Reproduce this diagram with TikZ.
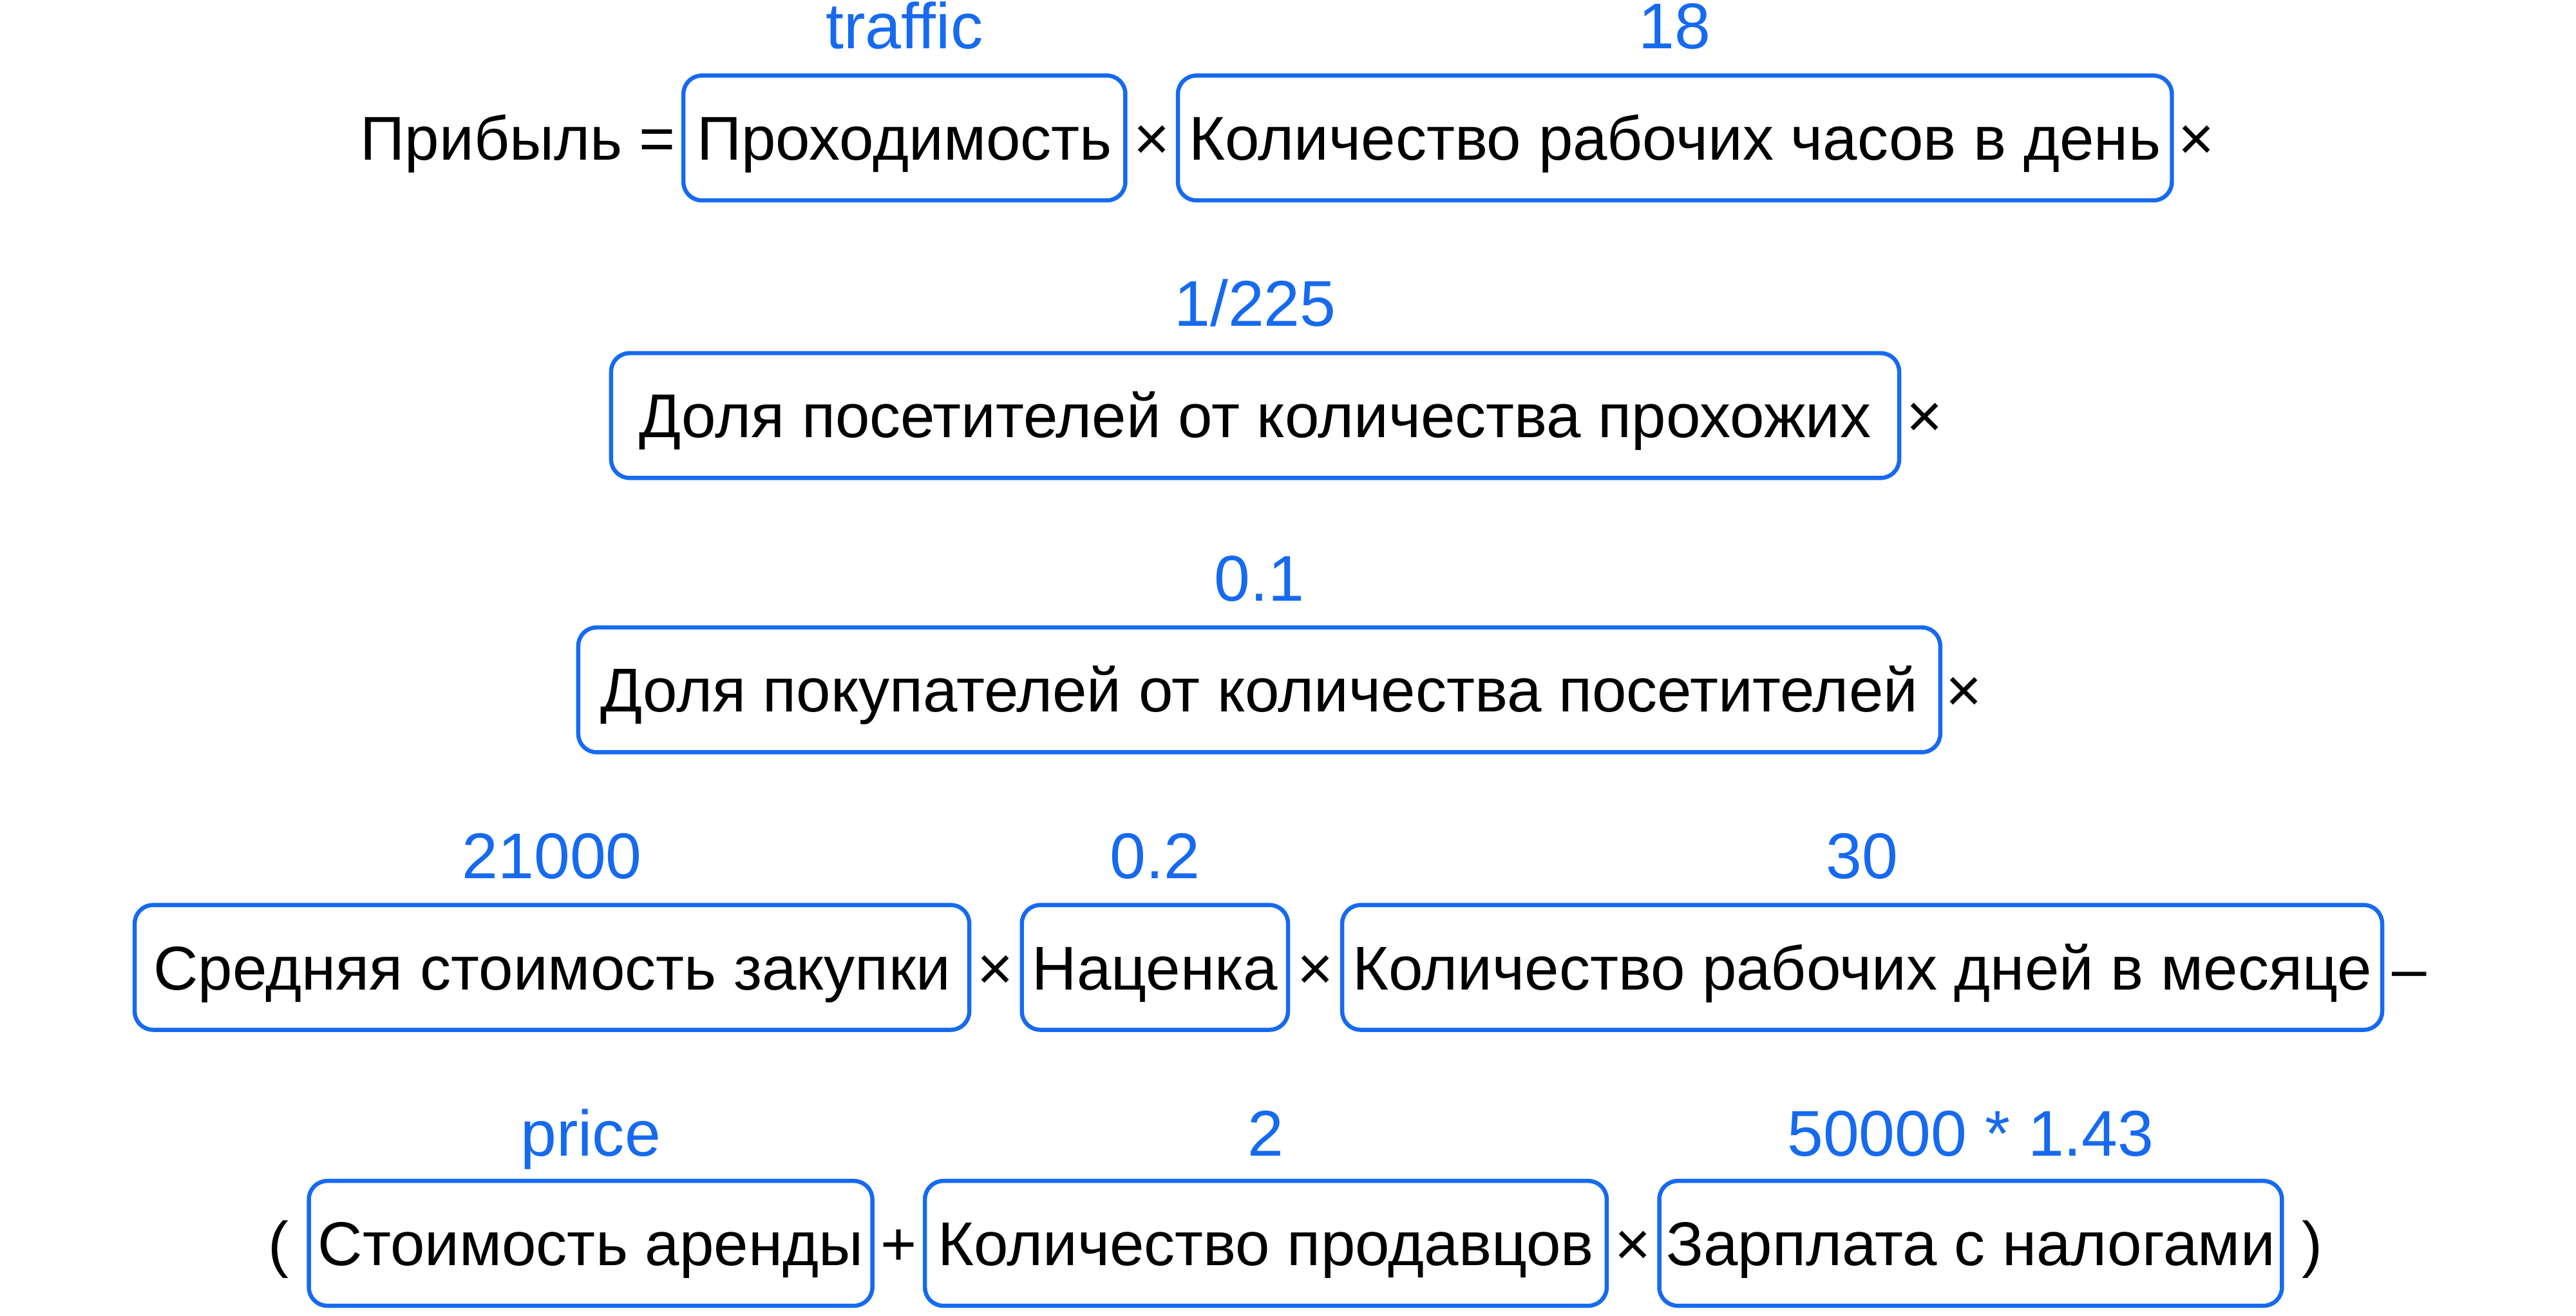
\documentclass[tikz,border=0pt]{standalone}
\usepackage{fontspec}
\setmainfont{Liberation Sans}
\usetikzlibrary{positioning,calc}
\definecolor{accent}{RGB}{22,106,240}
\tikzset{
  every node/.style={font=\fontsize{26.8}{31}\selectfont, text height=19.2pt, text depth=0pt, inner sep=0pt},
  term/.style={draw=accent, line width=1.8pt, rounded corners=2.8mm, minimum height=19mm},
  val/.style={text=accent, anchor=base, font=\fontsize{28}{32}\selectfont},
}
\begin{document}
\begin{tikzpicture}[x=0.25mm,y=-0.25mm]
    \useasboundingbox (0,0) rectangle (1568,801);

    % row 1
    \node[term, minimum width=67.25mm] (pass) at (550.5,84) {Проходимость};
    \node[term, minimum width=151.25mm] (hours) at (1019.5,84) {Количество рабочих часов в день};
    \node[left=0.8mm of pass] (lhs) {Прибыль =};
    \node (m1) at ($(pass.east)!0.5!(hours.west)$) {×};
    \node[right=0.6mm of hours] (m2) {×};
    \node[val] at ([yshift=3.75mm]pass.north) {traffic};
    \node[val] at ([yshift=3.75mm]hours.north) {18};

    % row 2
    \node[term, minimum width=196mm] (visit) at (764,253) {Доля посетителей от количества прохожих};
    \node[right=0.7mm of visit] (m3) {×};
    \node[val] at ([yshift=3.75mm]visit.north) {1/225};

    % row 3
    \node[term, minimum width=207.25mm] (buy) at (766.5,420) {Доля покупателей от количества посетителей};
    \node[right=0.5mm of buy] (m4) {×};
    \node[val] at ([yshift=3.75mm]buy.north) {0.1};

    % row 4
    \node[term, minimum width=127mm] (cost) at (336,589) {Средняя стоимость закупки};
    \node[term, minimum width=40.5mm] (markup) at (703,589) {Наценка};
    \node[term, minimum width=158.25mm] (days) at (1133.5,589) {Количество рабочих дней в месяце};
    \node (m5) at ($(cost.east)!0.5!(markup.west)$) {×};
    \node (m6) at ($(markup.east)!0.5!(days.west)$) {×};
    \node[right=1.1mm of days] (minus) {–};
    \node[val] at ([yshift=3.75mm]cost.north) {21000};
    \node[val] at ([yshift=3.75mm]markup.north) {0.2};
    \node[val] at ([yshift=3.75mm]days.north) {30};

    % row 5
    \node[term, minimum width=85.75mm] (rent) at (359.5,757) {Стоимость аренды};
    \node[term, minimum width=103.75mm] (staff) at (770.5,757) {Количество продавцов};
    \node[term, minimum width=94.75mm] (wage) at (1199.5,757) {Зарплата с налогами};
    \node[left=2.7mm of rent] (open) {(};
    \node (plus) at ($(rent.east)!0.5!(staff.west)$) {+};
    \node (m7) at ($(staff.east)!0.5!(wage.west)$) {×};
    \node[right=2.7mm of wage] (close) {)};
    \node[val] at ([yshift=3.5mm]rent.north) {price};
    \node[val] at ([yshift=3.5mm]staff.north) {2};
    \node[val] at ([yshift=3.5mm]wage.north) {50000 * 1.43};
\end{tikzpicture}
\end{document}
